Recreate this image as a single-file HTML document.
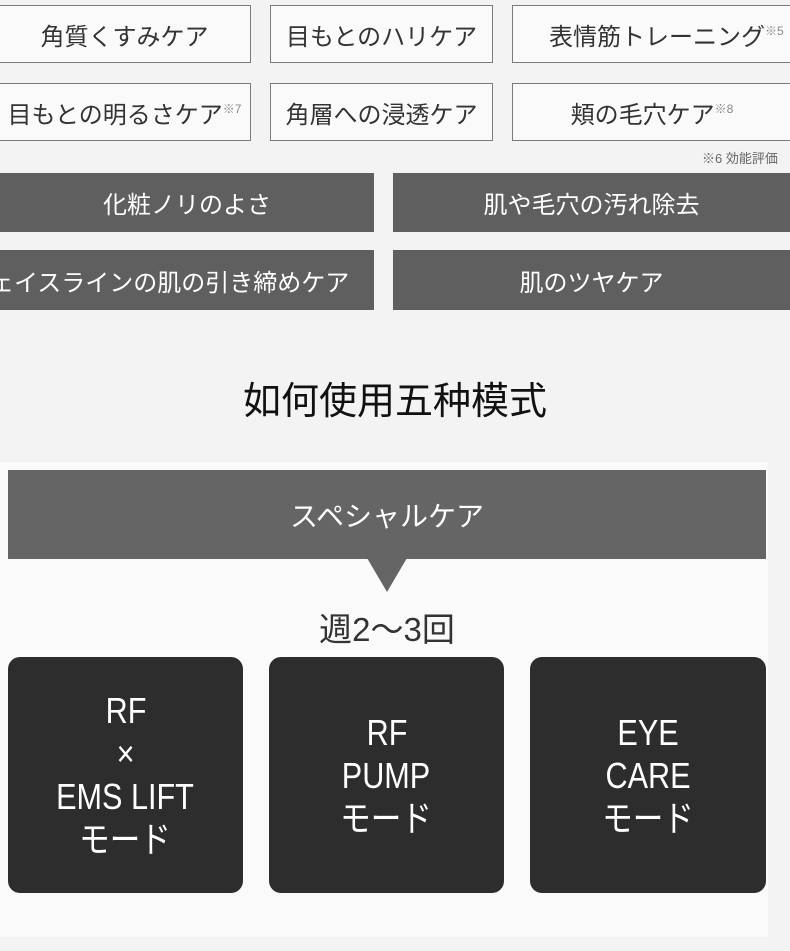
<!DOCTYPE html>
<html><head><meta charset="utf-8"><style>
body{margin:0;width:790px;height:951px;background:#f3f3f3;position:relative;overflow:hidden;font-family:"Liberation Sans","Noto Sans CJK JP",sans-serif;}
.b{position:absolute;box-sizing:border-box;display:flex;align-items:center;justify-content:center;}
.o{background:#fafafa;border:1.5px solid #7a7a7a;color:#333;font-size:24px;}
.d{background:#5f5f5f;color:#fff;font-size:24px;}
sup{font-size:12px;color:#888;vertical-align:top;position:relative;top:-4px;}
.c{background:#2d2d2d;color:#fff;border-radius:12px;font-size:36px;line-height:43px;text-align:center;flex-direction:column;}
.c div{transform:scaleX(0.85);}
</style></head><body>
<div class="b o" style="left:-2px;top:5px;width:253px;height:58px">角質くすみケア</div>
<div class="b o" style="left:270px;top:5px;width:223px;height:58px">目もとのハリケア</div>
<div class="b o" style="left:512px;top:5px;width:290px;height:58px;justify-content:flex-start;padding-left:36px">表情筋トレーニング<sup>※5</sup></div>
<div class="b o" style="left:-2px;top:83px;width:253px;height:58px">目もとの明るさケア<sup>※7</sup></div>
<div class="b o" style="left:270px;top:83px;width:223px;height:58px">角層への浸透ケア</div>
<div class="b o" style="left:512px;top:83px;width:290px;height:58px;padding-right:10px">頬の毛穴ケア<sup>※8</sup></div>
<div style="position:absolute;left:702px;top:148px;font-size:13px;color:#666;white-space:nowrap">※6 効能評価</div>
<div class="b d" style="left:0;top:173px;width:374px;height:59px">化粧ノリのよさ</div>
<div class="b d" style="left:393px;top:173px;width:397px;height:59px">肌や毛穴の汚れ除去</div>
<div class="b d" style="left:0;top:250px;width:374px;height:60px;justify-content:flex-start;white-space:nowrap;overflow:hidden"><span style="margin-left:-10px">ェイスラインの肌の引き締めケア</span></div>
<div class="b d" style="left:393px;top:250px;width:397px;height:60px">肌のツヤケア</div>
<div style="position:absolute;left:0;width:790px;top:370px;text-align:center;font-size:38px;color:#111">如何使用五种模式</div>
<div style="position:absolute;left:0;top:462px;width:768px;height:475px;background:#fafafa"></div>
<div class="b d" style="left:8px;top:470px;width:758px;height:89px;font-size:28px;background:#656565">スペシャルケア</div>
<div style="position:absolute;left:367px;top:558px;width:0;height:0;border-left:20px solid transparent;border-right:20px solid transparent;border-top:34px solid #656565"></div>
<div style="position:absolute;left:0;width:774px;top:603px;text-align:center;font-size:33px;color:#333">週2～3回</div>
<div class="b c" style="left:8px;top:657px;width:235px;height:236px"><div>RF</div><div>×</div><div>EMS LIFT</div><div>モード</div></div>
<div class="b c" style="left:269px;top:657px;width:235px;height:236px"><div>RF</div><div>PUMP</div><div>モード</div></div>
<div class="b c" style="left:530px;top:657px;width:236px;height:236px"><div>EYE</div><div>CARE</div><div>モード</div></div>
</body></html>
